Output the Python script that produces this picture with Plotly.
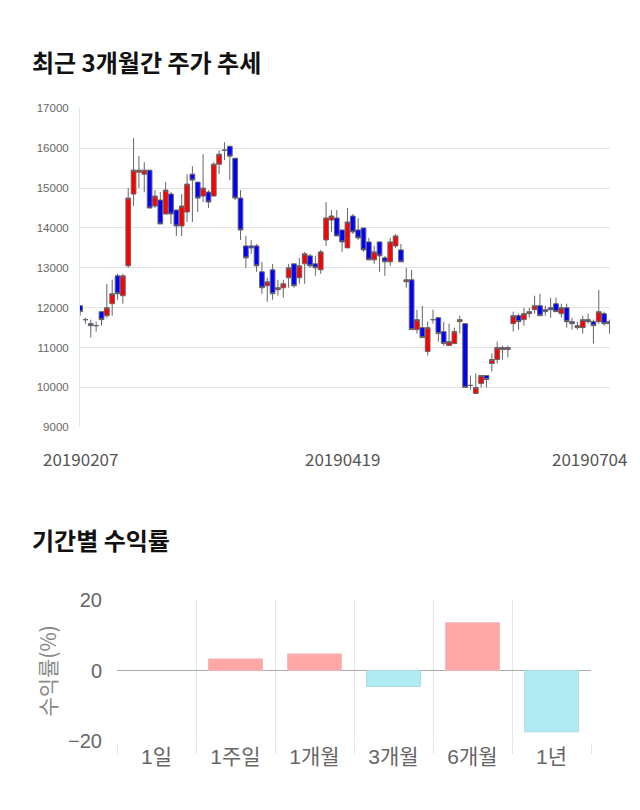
import plotly.graph_objects as go

# ---- Top chart: daily candles (last ~3 months) ----
opens = [12050, 11700, 11600, 11550, 11900, 11800, 12100, 12800, 12300, 13050,
         14850, 15400, 15350, 15450, 14550, 14700, 14350, 14850, 14450, 14050,
         14400, 15350, 15150, 14800, 14900, 14800, 15600, 15950, 16050, 15750,
         14750, 13550, 13550, 13550, 12900, 12550, 12950, 12450, 12500, 12750,
         13100, 12750, 13100, 13300, 13100, 12950, 13700, 14200, 14250, 13950,
         13500, 14300, 13950, 14000, 13650, 13200, 13650, 13250, 13150, 13550,
         13450, 12650, 12700, 11450, 11500, 10900, 11700, 11750, 11400, 11050,
         11100, 11650, 11600, 10050, 9850, 10100, 10300, 10600, 10700, 11000,
         10950, 11600, 11800, 11700, 11850, 11950, 12050, 11950, 12000, 12100,
         11850, 12000, 11650, 11500, 11500, 11700, 11650, 11650, 11850, 11600]
highs = [12050, 11750, 11700, 11650, 11900, 12600, 12700, 12850, 12850, 15000,
         16250, 15800, 15650, 15450, 14950, 14900, 15150, 14900, 14450, 14850,
         15350, 15550, 15150, 15850, 14950, 15650, 15950, 16150, 16050, 15750,
         14950, 13800, 13700, 13600, 13150, 12750, 13100, 12700, 12700, 13100,
         13100, 13250, 13400, 13350, 13300, 13450, 14650, 14450, 14450, 13950,
         14500, 14350, 14250, 14000, 13750, 13550, 13650, 13300, 13750, 13850,
         13600, 13000, 12950, 11950, 12050, 11650, 11950, 11750, 11650, 11600,
         11500, 11800, 11600, 10300, 10350, 10300, 10300, 10850, 11150, 11050,
         11050, 11900, 11850, 12000, 12000, 12300, 12350, 12050, 12250, 12250,
         12100, 12100, 11750, 11650, 11800, 11850, 11700, 12450, 11900, 11700]
lows = [11800, 11600, 11250, 11400, 11550, 11750, 11800, 12200, 12100, 13000,
        14550, 15000, 14900, 14500, 14500, 14100, 14350, 14100, 13800, 13800,
        14150, 14150, 14400, 14650, 14500, 14800, 15350, 15700, 15200, 14700,
        13700, 13000, 13350, 12900, 12350, 12150, 12200, 12300, 12250, 12500,
        12500, 12600, 12600, 13000, 12800, 12850, 13550, 13900, 13800, 13400,
        13500, 13850, 13700, 13400, 13200, 13100, 12900, 12800, 13050, 13500,
        13150, 12500, 11450, 11350, 11250, 10800, 11600, 11150, 11050, 11050,
        11100, 11350, 10000, 9950, 9850, 10000, 10000, 10400, 10600, 10700,
        10750, 11400, 11450, 11550, 11750, 11850, 11800, 11800, 11750, 11900,
        11750, 11500, 11450, 11450, 11350, 11600, 11100, 11600, 11550, 11350]
closes = [11900, 11700, 11550, 11550, 11700, 12000, 12350, 12350, 12800, 14750,
          15450, 15450, 15450, 14500, 14800, 14100, 14950, 14350, 14050, 14550,
          15100, 15200, 14750, 15000, 14650, 15600, 15850, 15950, 15800, 14750,
          13950, 13250, 13500, 13050, 12500, 12650, 12350, 12500, 12600, 13000,
          12550, 13050, 13350, 13050, 13000, 13400, 14250, 14300, 13800, 13650,
          14150, 13900, 13750, 13450, 13200, 13400, 13300, 13150, 13650, 13800,
          13150, 12700, 11450, 11700, 11250, 11500, 11700, 11350, 11100, 11150,
          11400, 11700, 10000, 10050, 10000, 10300, 10200, 10700, 11000, 10950,
          11000, 11800, 11650, 11850, 11900, 12050, 11800, 11900, 11950, 11900,
          12000, 11650, 11600, 11550, 11700, 11650, 11550, 11900, 11600, 11650]
day_index = list(range(len(opens)))
date_labels = ["20190207", "20190419", "20190704"]
date_label_index = [0, 49, 99]

# ---- Bottom chart: returns by period ----
periods = ["1일", "1주일", "1개월", "3개월", "6개월", "1년"]
returns = [0.0, 3.3, 4.7, -4.5, 13.5, -17.3]

W, H = 640, 810
def px(x):
    return x / W
def py(y):
    return 1 - y / H

fig = go.Figure()
fig.add_trace(go.Candlestick(
    x=day_index, open=opens, high=highs, low=lows, close=closes,
    increasing=dict(fillcolor="#ff0000", line=dict(color="#666666", width=1)),
    decreasing=dict(fillcolor="#0000ff", line=dict(color="#666666", width=1)),
    whiskerwidth=0, xaxis="x", yaxis="y", hoverinfo="skip"))

pos_fill, neg_fill = "#ffa6a6", "#b0eaf2"
pos_line, neg_line = "#f0b8b8", "#a6dbe3"
fig.add_trace(go.Bar(
    x=periods, y=returns, width=0.68,
    marker=dict(color=[pos_fill if v >= 0 else neg_fill for v in returns],
                line=dict(color=[pos_line if v >= 0 else neg_line for v in returns],
                          width=[0 if v == 0 else 1 for v in returns])),
    xaxis="x2", yaxis="y2", hoverinfo="skip"))

tick_font_top = dict(family="Liberation Sans, Arial", size=11.5, color="#666666")
tick_font_bot = dict(family="Liberation Sans, Noto Sans CJK KR", size=20, color="#666666")

annotations = [
    dict(text="<b>최근 3개월간 주가 추세</b>", x=px(30), y=py(52), xref="paper", yref="paper",
         xanchor="left", yanchor="middle", showarrow=False,
         font=dict(family="Noto Sans CJK KR", size=24, color="#111111")),
    dict(text="<b>기간별 수익률</b>", x=px(30), y=py(543), xref="paper", yref="paper",
         xanchor="left", yanchor="middle", showarrow=False,
         font=dict(family="Noto Sans CJK KR", size=24, color="#111111")),
    dict(text="수익률(%)", x=px(47), y=py(678), xref="paper", yref="paper",
         xanchor="center", yanchor="middle", showarrow=False, textangle=-90,
         font=dict(family="Noto Sans CJK KR", size=21, color="#888888")),
]
for i, (lbl, idx) in enumerate(zip(date_labels, date_label_index)):
    last = i == len(date_labels) - 1
    annotations.append(dict(
        text=lbl, x=idx, y=py(460), xref="x", yref="paper",
        xanchor="right" if last else "center", xshift=20 if last else 0,
        yanchor="middle", showarrow=False,
        font=dict(family="Noto Sans CJK KR", size=17, color="#555555")))

fig.update_layout(
    width=W, height=H, margin=dict(l=0, r=0, t=0, b=0),
    paper_bgcolor="white", plot_bgcolor="white", showlegend=False,
    boxgap=0.12, boxgroupgap=0.0,
    xaxis=dict(domain=[px(80), px(610)], range=[-0.02, 99.1], anchor="y",
               showgrid=False, showticklabels=False, zeroline=False, ticks="",
               rangeslider=dict(visible=False)),
    yaxis=dict(domain=[py(428), py(100)], range=[8998, 17002], anchor="x",
               tick0=9000, dtick=1000, tickformat="d", gridcolor="#e3e3e3",
               showline=True, linecolor="#e3e3e3", linewidth=1, zeroline=False,
               ticks="outside", ticklen=8, tickcolor="rgba(0,0,0,0)",
               tickfont=tick_font_top),
    xaxis2=dict(domain=[px(117), px(591)], anchor="y2", type="category",
                tickson="boundaries", showgrid=True, gridcolor="#e6e6e6",
                ticks="outside", ticklen=11, tickcolor="#e6e6e6",
                showline=False, zeroline=False,
                tickfont=dict(family="Liberation Sans, Noto Sans CJK KR", size=21, color="#666666")),
    yaxis2=dict(domain=[py(751), py(605)], anchor="x2", range=[-20.05, 20.05],
                tickvals=[-20, 0, 20], gridcolor="#e6e6e6",
                zeroline=True, zerolinecolor="#aaaaaa", zerolinewidth=1,
                ticks="outside", ticklen=10, tickcolor="rgba(0,0,0,0)",
                tickfont=tick_font_bot),
    annotations=annotations,
)

fig.write_html(
    "out.html",
    post_script="document.body.style.margin='0';document.body.style.padding='0';",
)
